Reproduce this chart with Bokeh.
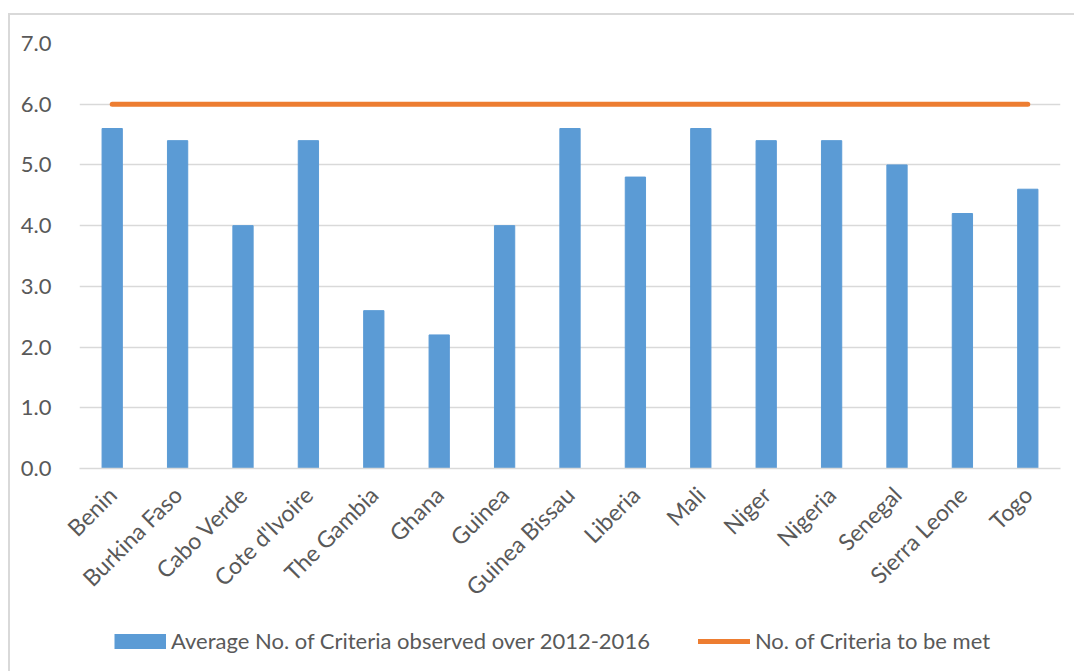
from math import pi
from bokeh.plotting import figure
from bokeh.layouts import column
from bokeh.models import (FactorRange, Range1d, FixedTicker, NumeralTickFormatter,
                          Legend, LegendItem)
from bokeh.embed import file_html
from bokeh.resources import INLINE

countries = ["Benin", "Burkina Faso", "Cabo Verde", "Cote d'Ivoire", "The Gambia",
             "Ghana", "Guinea", "Guinea Bissau", "Liberia", "Mali", "Niger",
             "Nigeria", "Senegal", "Sierra Leone", "Togo"]
observed = [5.6, 5.4, 4.0, 5.4, 2.6, 2.2, 4.0, 5.6, 4.8, 5.6, 5.4, 5.4, 5.0, 4.2, 4.6]
to_be_met = [6.0, 6.0, 6.0, 6.0, 6.0, 6.0, 6.0, 6.0, 6.0, 6.0, 6.0, 6.0, 6.0, 6.0, 6.0]
y_ticks = [0, 1, 2, 3, 4, 5, 6, 7]
bar_label = "Average No. of Criteria observed over 2012-2016"
line_label = "No. of Criteria to be met"

FONT = "Lato"
TXT = "#595959"
GRID = "#d9d9d9"
BLUE = "#5B9BD5"
ORANGE = "#ED7D31"

W = 1064
H1 = 600
H2 = 56

p = figure(x_range=FactorRange(factors=countries), y_range=Range1d(0, 7),
           width=W, height=H1, output_backend="svg", toolbar_location=None,
           min_border_left=69, min_border_right=14, min_border_top=28,
           min_border_bottom=H1 - 453)
p.outline_line_color = None
p.background_fill_color = "white"
p.border_fill_color = "white"

bars = p.vbar(x=countries, top=observed, width=0.31, color=BLUE)
line = p.line(x=countries, y=to_be_met, line_color=ORANGE, line_width=5,
              line_cap="round")

p.xgrid.visible = False
p.ygrid.ticker = FixedTicker(ticks=y_ticks)
p.ygrid.grid_line_color = GRID
p.ygrid.grid_line_width = 1.5

p.yaxis.ticker = FixedTicker(ticks=y_ticks)
p.yaxis.formatter = NumeralTickFormatter(format="0.0")
p.yaxis.axis_line_color = None
p.yaxis.major_tick_line_color = None
p.yaxis.minor_tick_line_color = None
p.yaxis.major_label_standoff = 22
p.yaxis.major_label_text_font = FONT
p.yaxis.major_label_text_font_size = "22px"
p.yaxis.major_label_text_color = TXT

p.xaxis.major_label_orientation = pi / 4
p.xaxis.axis_line_color = GRID
p.xaxis.axis_line_width = 1.5
p.xaxis.major_tick_line_color = None
p.xaxis.minor_tick_line_color = None
p.xaxis.major_label_standoff = 16
p.xaxis.major_label_text_font = FONT
p.xaxis.major_label_text_font_size = "23px"
p.xaxis.major_label_text_color = TXT

# legend strip (a second figure whose frame holds the legend)
lg = figure(x_range=FactorRange(factors=countries), y_range=Range1d(0, 7),
            width=W, height=H2, output_backend="svg", toolbar_location=None,
            min_border=0, x_axis_location=None, y_axis_location=None)
lg.outline_line_color = None
lg.grid.visible = False
lg.border_fill_color = "white"
sw_bar = lg.line(x=countries, y=observed, line_color=BLUE, line_width=15,
                 line_cap="butt", visible=False)
sw_line = lg.line(x=countries, y=to_be_met, line_color=ORANGE, line_width=5,
                  line_cap="round", visible=False)
legend = Legend(items=[LegendItem(label=bar_label, renderers=[sw_bar]),
                       LegendItem(label=line_label, renderers=[sw_line])],
                location=(35, 17), orientation="horizontal", padding=0, margin=0,
                spacing=48, border_line_color=None, background_fill_alpha=0,
                label_text_font=FONT, label_text_font_size="22px",
                label_text_color=TXT, glyph_height=18, glyph_width=52,
                label_standoff=5, inactive_fill_alpha=0)
lg.add_layout(legend)

layout = column(p, lg, spacing=0, margin=(13, 0, 0, 8),
                styles={"border-left": "2px solid #d9d9d9",
                        "border-top": "2px solid #d9d9d9"})

open("out.html", "w").write(file_html(layout, INLINE))
